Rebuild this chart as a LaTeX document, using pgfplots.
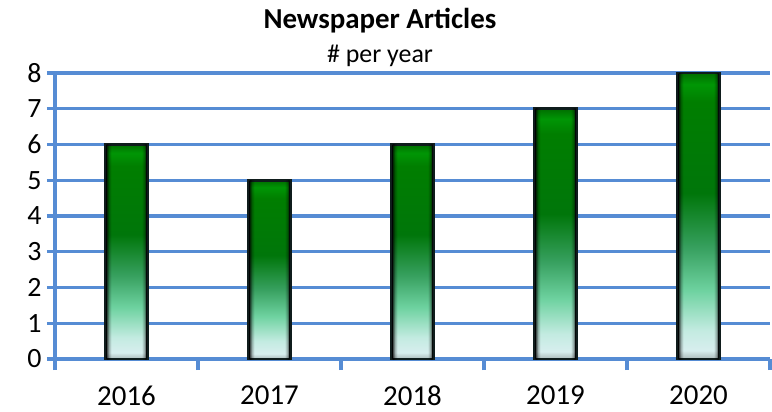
\documentclass[border=0pt]{standalone}
\usepackage{pgfplots}
\pgfplotsset{compat=1.18}
\usepackage{fontspec}
\setmainfont{Carlito}
\definecolor{gridblue}{RGB}{86,140,212}
\definecolor{barline}{RGB}{15,28,28}
\definecolor{sA}{RGB}{170,185,185}
\definecolor{sB}{RGB}{215,238,238}
\definecolor{sC}{RGB}{195,235,225}
\definecolor{sD}{RGB}{110,210,160}
\definecolor{sE}{RGB}{55,160,95}
\definecolor{sF}{RGB}{0,118,10}
\definecolor{sG}{RGB}{0,126,0}
\definecolor{sI}{RGB}{0,150,5}
\definecolor{sH}{RGB}{0,110,0}
\definecolor{eA}{RGB}{60,60,60}
\definecolor{eB}{RGB}{190,190,190}
\pgfdeclareverticalshading{barshade}{100bp}{%
 color(0bp)=(sA); color(25bp)=(sA); color(26.5bp)=(sB); color(30bp)=(sC);
 color(37bp)=(sD); color(44.5bp)=(sE); color(54bp)=(sF); color(70bp)=(sG);
 color(73bp)=(sI); color(75bp)=(sH); color(100bp)=(sH)}
\pgfdeclarehorizontalshading{edgeshade}{100bp}{%
 color(0bp)=(eA); color(25bp)=(eA); color(28bp)=(eB); color(31bp)=(white);
 color(69bp)=(white); color(72bp)=(eB); color(75bp)=(eA); color(100bp)=(eA)}
\pgfplotsset{
  mybar/.style={ybar, bar width=42bp, bar shift=0pt, draw=barline, line width=2.8bp, shading=barshade},
  myedge/.style={ybar, bar width=40bp, bar shift=0pt, draw=none, shading=edgeshade, blend mode=multiply},
}
\begin{document}
\begin{tikzpicture}[x=1bp,y=1bp]
\useasboundingbox (0,0) rectangle (772,411);
\begin{axis}[
  at={(55bp,52bp)}, anchor=south west,
  width=715bp, height=286bp, scale only axis,
  xmin=-0.5, xmax=4.5, ymin=0, ymax=8,
  axis lines=left,
  axis line style={-, gridblue, line width=3.2bp},
  xtick={0,1,2,3,4},
  xticklabels={2016,2017,2018,2019,2020},
  minor xtick={-0.5,0.5,1.5,2.5,3.5,4.5},
  x tick style={draw=none},
  minor x tick style={draw=gridblue, line width=3.2bp},
  minor tick length=11bp,
  ytick={0,1,...,8},
  y tick style={gridblue, line width=3.2bp},
  major tick length=8bp,
  tick align=outside,
  ymajorgrids,
  major grid style={gridblue, line width=3.2bp},
  /pgf/number format/assume math mode=true,
  xticklabel style={font=\fontsize{29}{32}\selectfont, yshift=-15bp},
  yticklabel style={font=\fontsize{28}{32}\selectfont, xshift=-2bp},
  clip=false,
]
\addplot[mybar] coordinates {(0,6)};
\addplot[myedge] coordinates {(0,6)};
\addplot[mybar] coordinates {(1,5)};
\addplot[myedge] coordinates {(1,5)};
\addplot[mybar] coordinates {(2,6)};
\addplot[myedge] coordinates {(2,6)};
\addplot[mybar] coordinates {(3,7)};
\addplot[myedge] coordinates {(3,7)};
\addplot[mybar] coordinates {(4,8)};
\addplot[myedge] coordinates {(4,8)};
\node[anchor=base, font=\fontsize{29}{32}\selectfont\bfseries] at ([yshift=45bp]rel axis cs:0.4545,1) {Newspaper Articles};
\node[anchor=base, font=\fontsize{26}{30}\selectfont] at ([yshift=11bp]rel axis cs:0.4545,1) {\# per year};
\end{axis}
\end{tikzpicture}
\end{document}
